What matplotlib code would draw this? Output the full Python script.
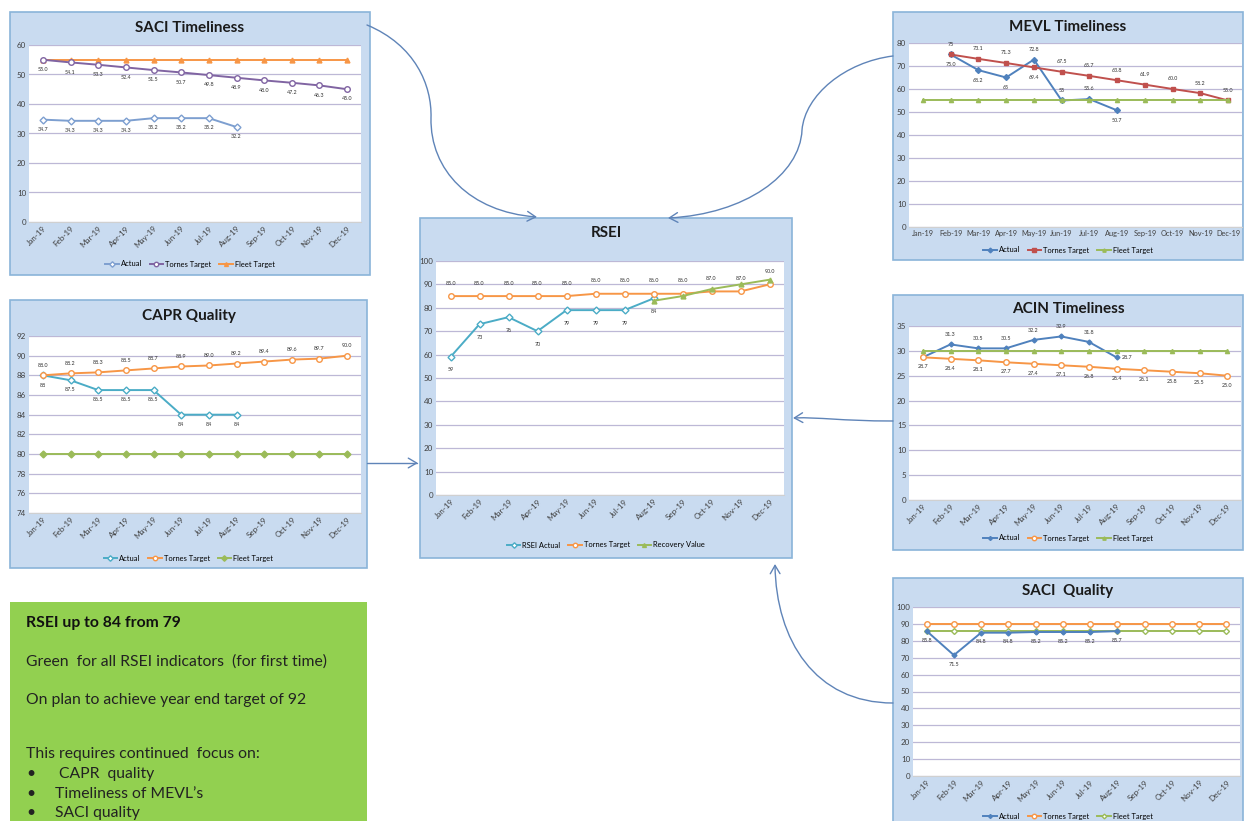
import numpy as np
import matplotlib
matplotlib.use("Agg")
import matplotlib.pyplot as plt
from matplotlib.patches import Rectangle, FancyArrowPatch
from matplotlib.path import Path

plt.rcParams['font.family'] = ['Lato', 'DejaVu Sans']

months = ["Jan-19", "Feb-19", "Mar-19", "Apr-19", "May-19", "Jun-19",
          "Jul-19", "Aug-19", "Sep-19", "Oct-19", "Nov-19", "Dec-19"]
N = None

# SACI Timeliness
saci_t_actual = [34.7, 34.3, 34.3, 34.3, 35.2, 35.2, 35.2, 32.2, N, N, N, N]
saci_t_tornes = [55.0, 54.1, 53.3, 52.4, 51.5, 50.7, 49.8, 48.9, 48.0, 47.2, 46.3, 45.0]
saci_t_fleet = [55, 55, 55, 55, 55, 55, 55, 55, 55, 55, 55, 55]

# CAPR Quality
capr_actual = [88, 87.5, 86.5, 86.5, 86.5, 84, 84, 84, N, N, N, N]
capr_tornes = [88.0, 88.2, 88.3, 88.5, 88.7, 88.9, 89.0, 89.2, 89.4, 89.6, 89.7, 90.0]
capr_fleet = [80] * 12

# RSEI
rsei_actual = [59, 73, 76, 70, 79, 79, 79, 84, N, N, N, N]
rsei_tornes = [85.0, 85.0, 85.0, 85.0, 85.0, 86.0, 86.0, 86.0, 86.0, 87.0, 87.0, 90.0]
rsei_recovery = [N, N, N, N, N, N, N, 83, 85, 88, 90, 92]

# MEVL Timeliness
mevl_actual = [N, 75, 68.2, 65, 72.8, 55, 55.6, 50.7, N, N, N, N]
mevl_tornes = [N, 75.0, 73.1, 71.3, 69.4, 67.5, 65.7, 63.8, 61.9, 60.0, 58.2, 55.0]
mevl_fleet = [55] * 12

# ACIN Timeliness
acin_actual = [28.7, 31.3, 30.5, 30.5, 32.2, 32.9, 31.8, 28.7, N, N, N, N]
acin_tornes = [28.7, 28.4, 28.1, 27.7, 27.4, 27.1, 26.8, 26.4, 26.1, 25.8, 25.5, 25.0]
acin_fleet = [30] * 12

# SACI Quality
saci_q_actual = [85.8, 71.5, 84.8, 84.8, 85.2, 85.2, 85.2, 85.7, N, N, N, N]
saci_q_tornes = [90] * 12
saci_q_fleet = [86] * 12

W, H = 1246, 821
fig = plt.figure(figsize=(W / 100, H / 100), dpi=100)
fig.patch.set_facecolor('white')


def fr(x0, y0, x1, y1):
    return [x0 / W, 1 - y1 / H, (x1 - x0) / W, (y1 - y0) / H]


def fxy(x, y):
    return (x / W, 1 - y / H)


PANEL_BG = '#c9dbf0'
PANEL_EDGE = '#8ab4d9'
GRID = '#bdb8d6'


def fmt(v, dec):
    return f"{v:.1f}" if dec else f"{v:g}"


def panel(box, plot, title, title_y, legend_y, ylim, ystep, series,
          rotate=True):
    x0, y0, x1, y1 = box
    fig.patches.append(Rectangle(fxy(x0, y1), (x1 - x0) / W, (y1 - y0) / H,
                                 transform=fig.transFigure, facecolor=PANEL_BG,
                                 edgecolor=PANEL_EDGE, lw=1.2, zorder=-5))
    fig.text((x0 + x1) / 2 / W, 1 - title_y / H, title, ha='center',
             va='center', fontsize=11, fontweight='bold', color='#1a1a1a')
    ax = fig.add_axes(fr(*plot))
    ax.set_facecolor('white')
    ax.set_xlim(-0.5, 11.5)
    ax.set_ylim(*ylim)
    ax.set_yticks(np.arange(ylim[0], ylim[1] + 0.01, ystep))
    ax.yaxis.grid(True, color=GRID, lw=0.9)
    ax.set_axisbelow(True)
    for s in ['left', 'right', 'top']:
        ax.spines[s].set_visible(False)
    ax.spines['bottom'].set_color('#d0d0d0')
    ax.tick_params(axis='both', length=0, labelsize=5.8, colors='#404040',
                   pad=2)
    ax.set_xticks(range(12))
    if rotate:
        ax.set_xticklabels(months, rotation=45, ha='right',
                           rotation_mode='anchor', fontsize=5.8)
    else:
        ax.set_xticklabels(months, fontsize=5.3)
    handles = []
    x = np.arange(12)
    for s in series:
        vals = np.array([np.nan if v is None else v for v in s['values']],
                        dtype=float)
        h, = ax.plot(x, vals, color=s['color'], lw=1.4, marker=s['marker'],
                     ms=s.get('ms', 4), mfc=s.get('mfc', 'white'),
                     mec=s['color'], mew=1.0, label=s['name'],
                     zorder=s.get('z', 3), clip_on=False)
        handles.append(h)
        side = s.get('sides')
        if side is not None:
            dy = (ylim[1] - ylim[0]) * 0.055
            for i, v in enumerate(vals):
                if np.isnan(v):
                    continue
                sd = side[i] if isinstance(side, (list, tuple)) else side
                if sd == 'n':
                    continue
                if sd == 'r':
                    ax.text(i + 0.2, v, fmt(v, s['dec']), fontsize=3.9,
                            ha='left', va='center', color='#303030')
                else:
                    ax.text(i, v + (dy if sd == 'a' else -dy),
                            fmt(v, s['dec']), fontsize=3.9, ha='center',
                            va='center', color='#303030')
    fig.legend(handles=handles, loc='center',
               bbox_to_anchor=((x0 + x1) / 2 / W, 1 - legend_y / H),
               ncol=len(handles), frameon=False, fontsize=5.4,
               handlelength=1.8, columnspacing=1.0, handletextpad=0.3,
               markerscale=0.8)
    return ax


# SACI Timeliness
panel((10, 12, 370, 275), (29, 45, 361, 222), 'SACI Timeliness', 28, 264,
      (0, 60), 10,
      [dict(name='Actual', values=saci_t_actual, color='#7d9fd0', marker='D',
            ms=3.5, sides='b', dec=True),
       dict(name='Tornes Target', values=saci_t_tornes, color='#8064a2',
            marker='o', sides='b', dec=True, z=4),
       dict(name='Fleet Target', values=saci_t_fleet, color='#f79646',
            marker='^', mfc='#f79646', ms=3.5, dec=True)])

# CAPR Quality
panel((10, 300, 367, 568), (29, 336, 361, 513), 'CAPR Quality', 316, 558,
      (74, 92), 2,
      [dict(name='Actual', values=capr_actual, color='#4bacc6', marker='D',
            ms=3.5, sides='b', dec=False),
       dict(name='Tornes Target', values=capr_tornes, color='#f79646',
            marker='o', sides='a', dec=True),
       dict(name='Fleet Target', values=capr_fleet, color='#9bbb59',
            marker='D', ms=3.5, mfc='#9bbb59', dec=True)])

# RSEI
panel((420, 218, 792, 558), (436, 261, 784, 495), 'RSEI', 233, 545,
      (0, 100), 10,
      [dict(name='RSEI Actual', values=rsei_actual, color='#4bacc6',
            marker='D', ms=3.5, sides='b', dec=False),
       dict(name='Tornes Target', values=rsei_tornes, color='#f79646',
            marker='o', sides='a', dec=True),
       dict(name='Recovery Value', values=rsei_recovery, color='#9bbb59',
            marker='^', mfc='#9bbb59', ms=3.5, dec=True, z=5)])

# MEVL Timeliness
panel((893, 12, 1243, 260), (909, 43, 1242, 227), 'MEVL Timeliness', 27, 250,
      (0, 80), 10,
      [dict(name='Actual', values=mevl_actual, color='#4f81bd', marker='D',
            ms=3, mfc='#4f81bd', dec=False,
            sides=['n', 'a', 'b', 'b', 'a', 'a', 'a', 'b', 'n', 'n', 'n', 'n']),
       dict(name='Tornes Target', values=mevl_tornes, color='#c0504d',
            marker='s', ms=3.5, mfc='#c0504d', dec=True,
            sides=['n', 'b', 'a', 'a', 'b', 'a', 'a', 'a', 'a', 'a', 'a', 'a']),
       dict(name='Fleet Target', values=mevl_fleet, color='#9bbb59',
            marker='^', ms=3, mfc='#9bbb59', dec=True)],
      rotate=False)

# ACIN Timeliness
panel((893, 295, 1243, 550), (909, 326, 1241, 500), 'ACIN Timeliness', 309,
      538, (0, 35), 5,
      [dict(name='Actual', values=acin_actual, color='#4f81bd', marker='D',
            ms=2.5, mfc='#4f81bd', dec=True,
            sides=['n', 'a', 'a', 'a', 'a', 'a', 'a', 'r', 'n', 'n', 'n', 'n']),
       dict(name='Tornes Target', values=acin_tornes, color='#f79646',
            marker='o', sides='b', dec=True),
       dict(name='Fleet Target', values=acin_fleet, color='#9bbb59',
            marker='^', ms=3, mfc='#9bbb59', dec=True)])

# SACI Quality
panel((893, 578, 1243, 835), (913, 607, 1240, 776), 'SACI  Quality', 591, 816,
      (0, 100), 10,
      [dict(name='Actual', values=saci_q_actual, color='#4f81bd', marker='D',
            ms=2.5, mfc='#4f81bd', sides='b', dec=True, z=5),
       dict(name='Tornes Target', values=saci_q_tornes, color='#f79646',
            marker='o', dec=True),
       dict(name='Fleet Target', values=saci_q_fleet, color='#9bbb59',
            marker='D', ms=3, dec=True)])

# Green summary box
fig.patches.append(Rectangle(fxy(10, 830), 357 / W, 228 / H,
                             transform=fig.transFigure, facecolor='#92d050',
                             edgecolor='none', zorder=-5))
tx = 26 / W
FS = 11.3
fig.text(tx, 1 - 623 / H, 'RSEI up to 84 from 79', fontsize=FS,
         fontweight='bold', va='center', color='#111111')
fig.text(tx, 1 - 662 / H, 'Green  for all RSEI indicators  (for first time)',
         fontsize=FS, va='center', color='#222222')
fig.text(tx, 1 - 700 / H, 'On plan to achieve year end target of 92',
         fontsize=FS, va='center', color='#222222')
fig.text(tx, 1 - 754 / H, 'This requires continued  focus on:',
         fontsize=FS, va='center', color='#222222')
for yy, txt, ind in [(774, 'CAPR  quality', 59), (794, 'Timeliness of MEVL\u2019s', 55),
                     (813, 'SACI quality', 55)]:
    fig.text(tx, 1 - yy / H, '\u2022', fontsize=FS, va='center',
             color='#222222')
    fig.text(ind / W, 1 - yy / H, txt, fontsize=FS, va='center',
             color='#222222')

# Connector arrows
ARROW = '#5f84b8'


def curve(pts, codes):
    verts = [fxy(x, y) for x, y in pts]
    p = Path(verts, codes)
    a = FancyArrowPatch(path=p, arrowstyle='->,head_length=6,head_width=3.5',
                        transform=fig.transFigure, color=ARROW, lw=1.0,
                        zorder=10)
    fig.patches.append(a)


C4 = Path.CURVE4
curve([(367, 25), (415, 45), (432, 85), (431, 118),
       (430, 170), (470, 212), (537, 217)],
      [Path.MOVETO, C4, C4, C4, C4, C4, C4])
curve([(893, 56), (845, 62), (805, 95), (802, 130),
       (800, 175), (745, 214), (668, 218)],
      [Path.MOVETO, C4, C4, C4, C4, C4, C4])
curve([(367, 463), (418, 463)], [Path.MOVETO, Path.LINETO])
curve([(893, 421), (840, 421), (820, 417), (793, 418)],
      [Path.MOVETO, C4, C4, C4])
curve([(893, 703), (815, 703), (776, 640), (775, 564)],
      [Path.MOVETO, C4, C4, C4])

fig.savefig('out.png', dpi=100)
